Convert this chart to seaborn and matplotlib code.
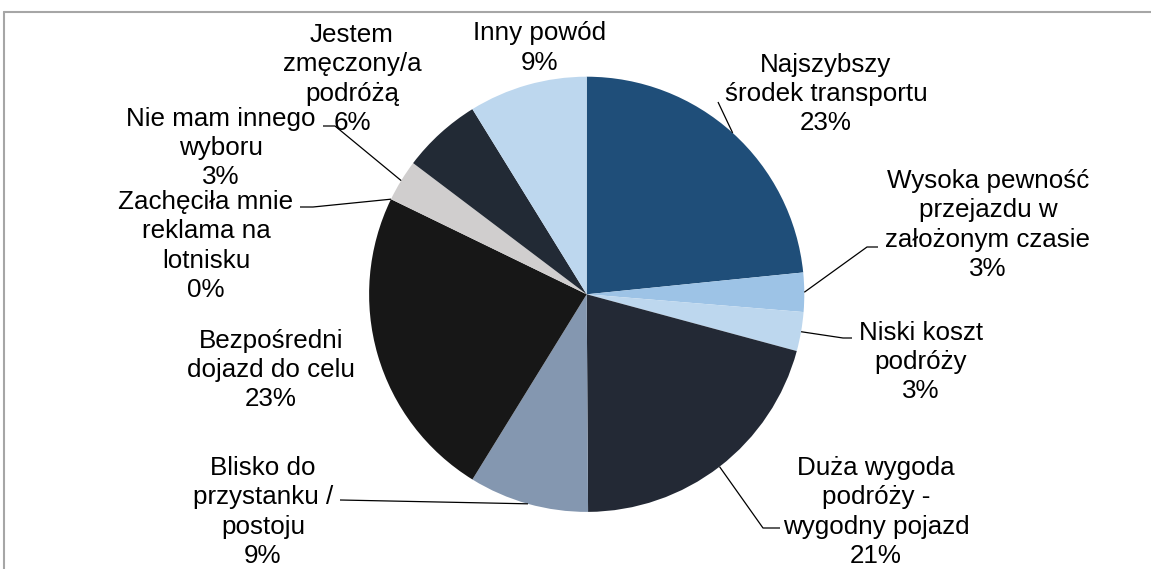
import numpy as np
import matplotlib
matplotlib.use("Agg")
import matplotlib.pyplot as plt
import seaborn as sns

categories = [
    "Najszybszy\nśrodek transportu",
    "Wysoka pewność\nprzejazdu w\nzałożonym czasie",
    "Niski koszt\npodróży",
    "Duża wygoda\npodróży -\nwygodny pojazd",
    "Blisko do\nprzystanku /\npostoju",
    "Bezpośredni\ndojazd do celu",
    "Zachęciła mnie\nreklama na\nlotnisku",
    "Nie mam innego\nwyboru",
    "Jestem\nzmęczony/a\npodróżą",
    "Inny powód",
]
values = [23.4, 2.9, 2.9, 20.7, 8.9, 23.4, 0.0, 3.1, 5.9, 8.8]
colors = ["#1F4E79", "#9DC3E6", "#BDD7EE", "#232935", "#8497B0",
          "#171717", "#3B3838", "#D0CECE", "#222A35", "#BDD7EE"]

sns.set_theme(style="white")
plt.rcParams['font.family'] = ['Liberation Sans', 'DejaVu Sans']

W, H = 1151, 569
fig = plt.figure(figsize=(W / 100, H / 100), dpi=100)
ax = fig.add_axes([0, 0, 1, 1])
ax.set_xlim(0, W)
ax.set_ylim(0, H)
ax.set_aspect('equal')
ax.axis('off')

def P(x, y):
    return (x, H - y)

cx, cy = 586.7, 294.3
R = 217.6
wedges, _ = ax.pie(values, colors=colors, startangle=90, counterclock=False,
                   center=P(cx, cy), radius=R, wedgeprops=dict(linewidth=0))
ax.set_xlim(0, W)
ax.set_ylim(0, H)

total = sum(values)
pcts = [f"{v / total * 100:.0f}%" for v in values]

# label block centers (px from top)
label_pos = [(826, 94), (988, 225), (921, 362), (876, 512), (263, 512),
             (271, 370), (206, 246), (221, 148), (352, 79), (540, 48)]
# leader line waypoints (px from top), None = no leader
leaders = [
    [(718, 102)],
    [(867, 247), (878, 247)],
    [(843, 338), (852, 338)],
    [(763, 528), (780, 528)],
    [(340, 500)],
    None,
    [(313, 207), (300, 207)],
    [(335, 126), (323, 126)],
    None,
    None,
]

for i, (w, cat, pct) in enumerate(zip(wedges, categories, pcts)):
    mid = np.deg2rad((w.theta1 + w.theta2) / 2)
    ax_pt = (w.center[0] + w.r * np.cos(mid), w.center[1] + w.r * np.sin(mid))
    if leaders[i] is not None:
        pts = [ax_pt] + [P(*p) for p in leaders[i]]
        xs, ys = zip(*pts)
        ax.plot(xs, ys, color="#000000", lw=0.9, solid_capstyle='butt', zorder=1)
    lx, ly = label_pos[i]
    ax.text(*P(lx, ly), f"{cat}\n{pct}", ha='center', va='center',
            fontsize=18.7, color='#000000', linespacing=1.28, zorder=3)

# chart frame (top and left visible)
fig.add_artist(plt.Line2D([4 / W, 1], [1 - 12 / H, 1 - 12 / H], color='#A6A6A6', lw=1.5,
                          transform=fig.transFigure))
fig.add_artist(plt.Line2D([4 / W, 4 / W], [0, 1 - 12 / H], color='#A6A6A6', lw=1.5,
                          transform=fig.transFigure))

fig.savefig("out.png", dpi=100)
